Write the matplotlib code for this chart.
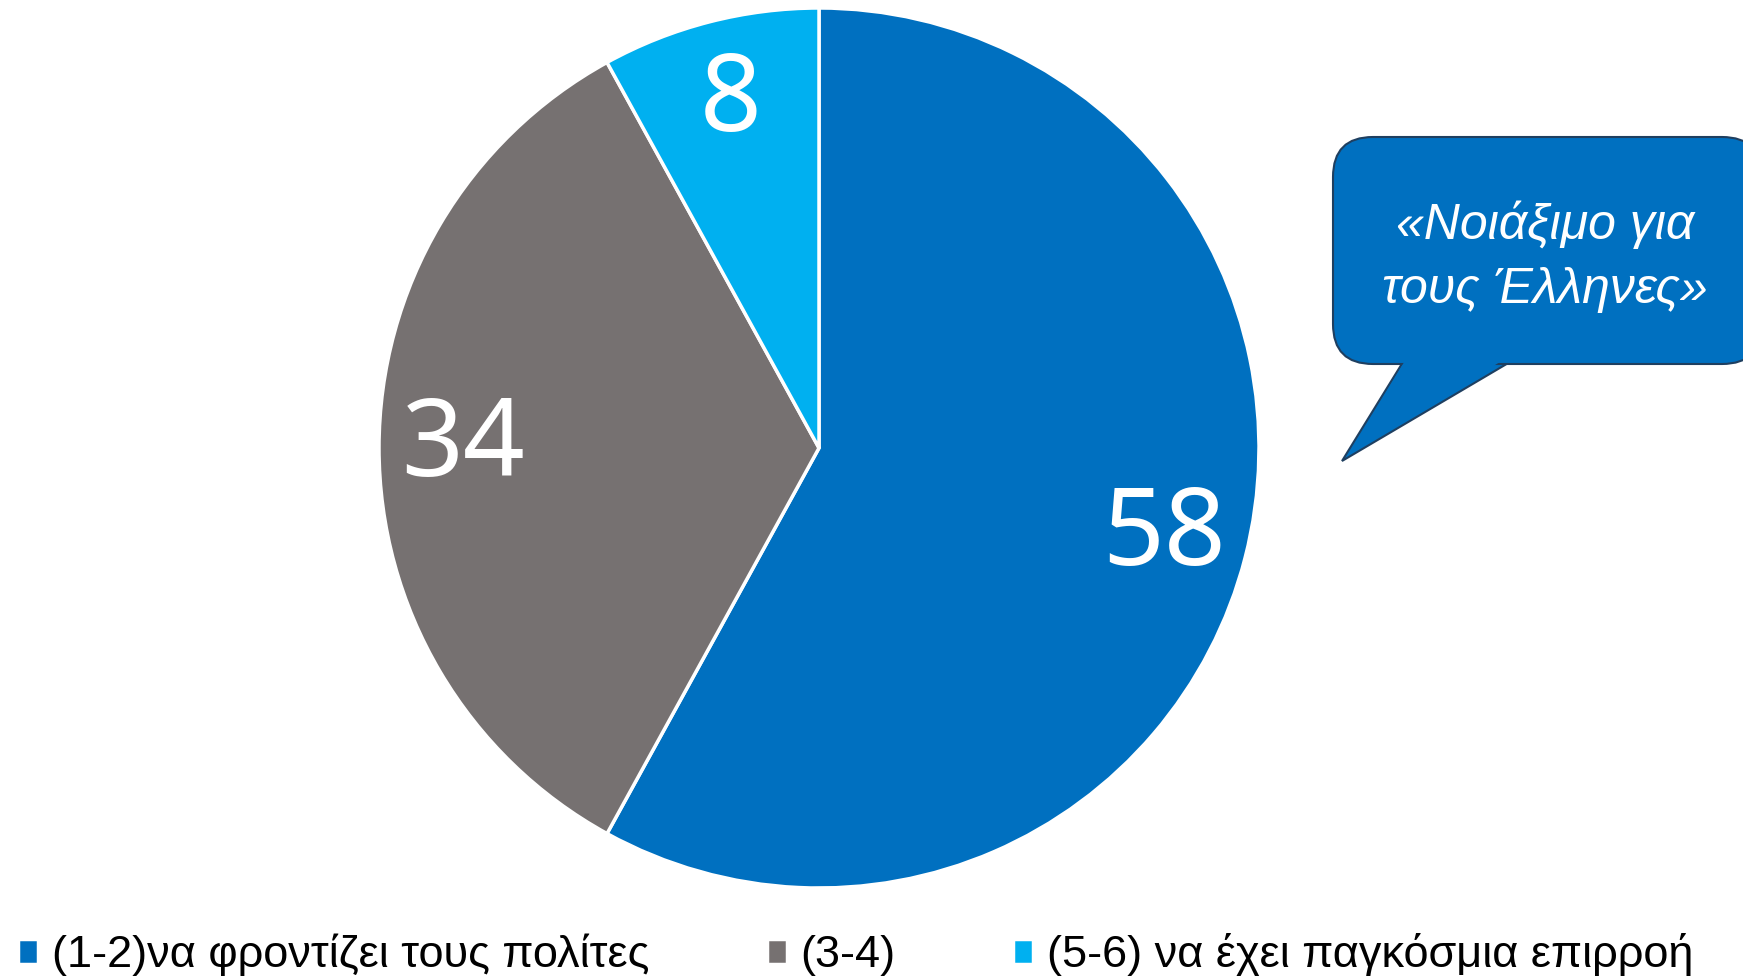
import numpy as np
import matplotlib.pyplot as plt
from matplotlib.patches import FancyBboxPatch, Polygon

# Data
labels = ["(1-2)να φροντίζει τους πολίτες", "(3-4)", "(5-6) να έχει παγκόσμια επιρροή"]
values = [58, 34, 8]
colors = ["#0070C0", "#767171", "#00B0F0"]
quote = "«Νοιάξιμο για\nτους Έλληνες»"

W, H = 1743, 976
fig = plt.figure(figsize=(W/100, H/100), dpi=100)

# pie axes: center (819,448) px, radius 440 px
cx, cy, r = 819, 448, 440
ax = fig.add_axes([(cx-r)/W, (H-cy-r)/H, 2*r/W, 2*r/H])
wedges, texts, autotexts = ax.pie(values, colors=colors, startangle=90, counterclock=False,
                                  autopct=lambda p: "{:.0f}".format(p), pctdistance=0.81,
                                  wedgeprops=dict(edgecolor="white", linewidth=2.5),
                                  textprops=dict(color="white", fontsize=78, family="Noto Sans",
                                                 weight="medium"))
ax.set_xlim(-1, 1)
ax.set_ylim(-1, 1)
ax.set_aspect("auto")

# legend
fig.legend(wedges, labels, loc="center left", bbox_to_anchor=(18/W, (H-955)/H), ncol=3,
           frameon=False, prop=dict(family="Liberation Sans", size=32.5),
           handlelength=0.45, handleheight=0.45, handletextpad=0.3, columnspacing=2.6,
           borderaxespad=0, borderpad=0)

# callout overlay in pixel coords
ov = fig.add_axes([0, 0, 1, 1])
ov.set_xlim(0, W)
ov.set_ylim(H, 0)
ov.axis("off")
blue = "#0070C0"
edge = "#1F3F60"
tail = Polygon([(1403, 362), (1342, 461), (1510, 362)], closed=True, facecolor=blue,
               edgecolor=edge, linewidth=1.5, zorder=2)
ov.add_patch(tail)
pad = 40
box = FancyBboxPatch((1333+pad, 137+pad), 1762-1333-2*pad, 364-137-2*pad,
                     boxstyle="round,pad=%d" % pad,
                     facecolor=blue, edgecolor=edge, linewidth=1.5, zorder=3)
ov.add_patch(box)
cover = Polygon([(1406, 359), (1350, 452), (1505, 359)], closed=True, facecolor=blue,
                edgecolor="none", zorder=4)
ov.add_patch(cover)
ov.text(1545, 257, quote, color="white", fontsize=36, style="italic", family="Liberation Sans",
        ha="center", va="center", linespacing=1.5, zorder=5)

fig.savefig("out.png", dpi=100)
